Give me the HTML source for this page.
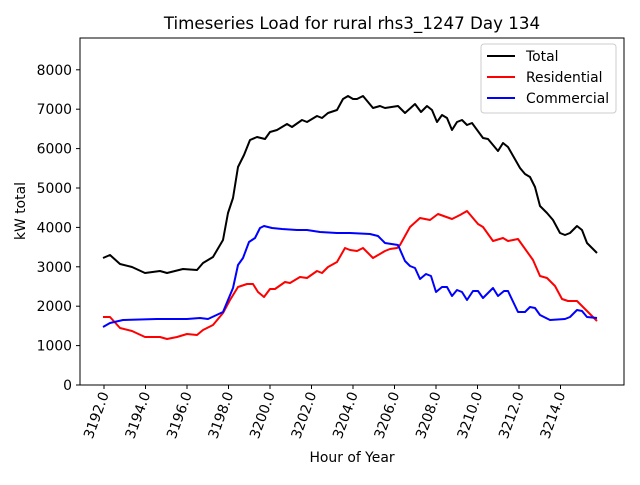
<!DOCTYPE html>
<html><head><meta charset="utf-8"><style>html,body{margin:0;padding:0;background:#fff}</style></head>
<body>
<svg width="640" height="480" xmlns="http://www.w3.org/2000/svg" font-family="DejaVu Sans, sans-serif">
<rect width="640" height="480" fill="#fff"/>
<text x="352" y="29" font-size="16.7" text-anchor="middle">Timeseries Load for rural rhs3_1247  Day 134</text>
<g fill="none" stroke-width="2" stroke-linejoin="round">
<polyline stroke="#000" points="103,258 110,255 120,264 132,267 145,273 160,271 167,273 183,269 197,270 203,263 213,257 223,240 228,213 233,198 238,167 244,155 250,140 257,137 265,139 270,132 277,130 287,124 292,127 302,120 307,122 317,116 322,118 328,113 337,110 343,99 348,96 353,99 357,99 363,96 373,108 380,106 385,108 398,106 405,113 415,104 421,112 427,106 432,110 437,122 442,115 447,118 452,130 457,122 462,120 467,125 472,123 483,138 488,139 498,151 503,143 508,147 520,168 525,174 530,177 535,187 540,206 547,213 553,220 560,233 565,235 570,233 577,226 582,230 587,243 597,253"/>
<polyline stroke="#f00" points="103,317 110,317 120,328 132,331 145,337 160,337 167,339 177,337 187,334 197,335 203,330 213,325 223,313 230,300 238,287 247,284 253,284 258,292 264,297 270,289 275,289 285,282 290,283 300,277 307,278 317,271 322,273 328,267 337,262 345,248 350,250 357,251 363,248 373,258 385,251 390,249 397,248 400,245 410,227 420,218 430,220 438,214 452,219 460,215 467,211 478,224 483,227 493,241 503,238 508,241 518,239 533,260 540,276 547,278 555,286 562,299 568,301 577,301 583,307 597,321"/>
<polyline stroke="#00f" points="103,327 110,323 123,320 157,319 180,319 187,319 200,318 208,319 223,312 233,288 238,265 243,258 249,242 255,238 260,228 264,226 272,228 282,229 297,230 307,230 320,232 337,233 350,233 370,234 378,236 385,243 398,245 405,261 410,266 415,268 420,279 426,274 431,276 436,292 442,287 447,287 452,296 457,290 462,292 467,300 473,291 478,291 483,298 493,288 498,296 504,291 508,291 518,312 525,312 530,307 535,308 540,315 550,320 565,319 570,317 577,310 582,311 587,317 597,318"/>
</g>
<rect x="80" y="38" width="544" height="347" fill="none" stroke="#000" stroke-width="1"/>
<g stroke="#000" stroke-width="1">
<line x1="80" x2="76" y1="385" y2="385"/><line x1="80" x2="76" y1="345.6" y2="345.6"/><line x1="80" x2="76" y1="306.2" y2="306.2"/><line x1="80" x2="76" y1="266.8" y2="266.8"/><line x1="80" x2="76" y1="227.4" y2="227.4"/><line x1="80" x2="76" y1="188" y2="188"/><line x1="80" x2="76" y1="148.6" y2="148.6"/><line x1="80" x2="76" y1="109.2" y2="109.2"/><line x1="80" x2="76" y1="69.8" y2="69.8"/>
<line y1="385" y2="389" x1="104" x2="104"/><line y1="385" y2="389" x1="145.5" x2="145.5"/><line y1="385" y2="389" x1="187" x2="187"/><line y1="385" y2="389" x1="228.5" x2="228.5"/><line y1="385" y2="389" x1="270" x2="270"/><line y1="385" y2="389" x1="311.5" x2="311.5"/><line y1="385" y2="389" x1="353" x2="353"/><line y1="385" y2="389" x1="394.5" x2="394.5"/><line y1="385" y2="389" x1="436" x2="436"/><line y1="385" y2="389" x1="477.5" x2="477.5"/><line y1="385" y2="389" x1="519" x2="519"/><line y1="385" y2="389" x1="560.5" x2="560.5"/>
</g>
<g font-size="13.9" text-anchor="end">
<text x="72" y="390">0</text><text x="72" y="350.6">1000</text><text x="72" y="311.2">2000</text><text x="72" y="271.8">3000</text><text x="72" y="232.4">4000</text><text x="72" y="193">5000</text><text x="72" y="153.6">6000</text><text x="72" y="114.2">7000</text><text x="72" y="74.8">8000</text>
</g>
<g font-size="13.9" text-anchor="end">
<text transform="translate(109,394) rotate(-70)">3192.0</text>
<text transform="translate(150.5,394) rotate(-70)">3194.0</text>
<text transform="translate(192,394) rotate(-70)">3196.0</text>
<text transform="translate(233.5,394) rotate(-70)">3198.0</text>
<text transform="translate(275,394) rotate(-70)">3200.0</text>
<text transform="translate(316.5,394) rotate(-70)">3202.0</text>
<text transform="translate(358,394) rotate(-70)">3204.0</text>
<text transform="translate(399.5,394) rotate(-70)">3206.0</text>
<text transform="translate(441,394) rotate(-70)">3208.0</text>
<text transform="translate(482.5,394) rotate(-70)">3210.0</text>
<text transform="translate(524,394) rotate(-70)">3212.0</text>
<text transform="translate(565.5,394) rotate(-70)">3214.0</text>
</g>
<text x="352" y="462" font-size="13.9" text-anchor="middle">Hour of Year</text>
<text transform="translate(25,211) rotate(-90)" font-size="13.9" text-anchor="middle">kW total</text>
<rect x="481" y="44" width="135" height="69" rx="3" fill="#fff" fill-opacity="0.8" stroke="#ccc"/>
<g stroke-width="2"><line x1="487" x2="515" y1="56" y2="56" stroke="#000"/><line x1="487" x2="515" y1="77" y2="77" stroke="#f00"/><line x1="487" x2="515" y1="98" y2="98" stroke="#00f"/></g>
<g font-size="13.9"><text x="526" y="61">Total</text><text x="526" y="82">Residential</text><text x="526" y="103">Commercial</text></g>
</svg>
</body></html>
